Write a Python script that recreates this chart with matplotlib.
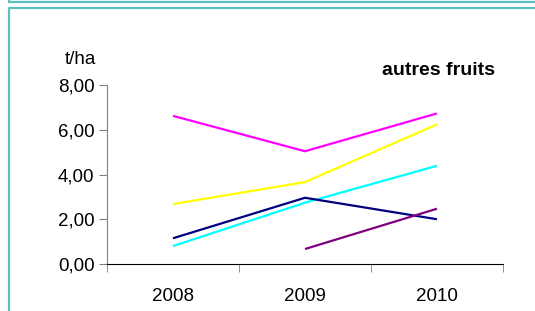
import numpy as np
import matplotlib.pyplot as plt
from matplotlib.lines import Line2D

plt.rcParams['font.family'] = ['Liberation Sans', 'DejaVu Sans']

years = ['2008', '2009', '2010']
series = [
    ([6.62, 5.04, 6.73], '#FF00FF'),
    ([2.68, 3.66, 6.24], '#FFFF00'),
    ([0.80, 2.74, 4.39], '#00FFFF'),
    ([1.15, 2.96, 2.00], '#000080'),
    ([np.nan, 0.67, 2.47], '#800080'),
]
yticks = [0, 2, 4, 6, 8]

W, H = 535, 311
fig = plt.figure(figsize=(W / 100, H / 100), dpi=100)

# panel borders
teal = '#5FBFBF'
fig.add_artist(Line2D([8.5 / W, 8.5 / W, 1], [1, 1 - 2 / H, 1 - 2 / H],
                      color=teal, lw=1.6, transform=fig.transFigure))
fig.add_artist(Line2D([8.5 / W, 8.5 / W, 1], [0, 1 - 8 / H, 1 - 8 / H],
                      color=teal, lw=1.6, transform=fig.transFigure))

ax = fig.add_axes([107 / W, 1 - 264 / H, (503 - 107) / W, (264 - 85) / H])
x = np.arange(len(years))
for vals, c in series:
    ax.plot(x, vals, color=c, lw=1.6, solid_capstyle='butt')

ax.set_xlim(-0.5, 2.5)
ax.set_ylim(0, 8)
ax.set_xticks(x)
ax.set_xticklabels(years, fontsize=13.5)
ax.set_xticks([-0.5, 0.5, 1.5, 2.5], minor=True)
ax.tick_params(axis='x', which='major', length=0, pad=17)
ax.tick_params(axis='x', which='minor', length=6, direction='out', color='#808080')
ax.set_yticks(yticks)
ax.yaxis.set_major_formatter(plt.FuncFormatter(lambda v, p: ('%.2f' % v).replace('.', ',')))
ax.tick_params(axis='y', length=6, direction='out', color='#808080', pad=3, labelsize=13.5)
for s in ['top', 'right']:
    ax.spines[s].set_visible(False)
ax.spines['left'].set_color('#808080')
ax.spines['bottom'].set_color('black')
ax.set_facecolor('none')

fig.text(80 / W, 1 - 60 / H, 't/ha', ha='center', va='center', fontsize=13.5)
fig.text(439 / W, 1 - 71 / H, 'autres fruits', ha='center', va='center',
         fontsize=14, fontweight='bold')

fig.savefig('out.png', dpi=100)
